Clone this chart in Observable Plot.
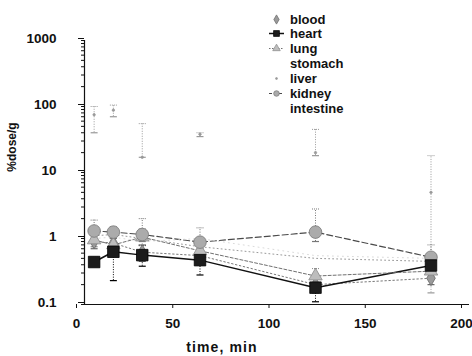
<!DOCTYPE html>
<html><head><meta charset="utf-8">
<script src="https://cdn.jsdelivr.net/npm/d3@7"></script>
<script src="https://cdn.jsdelivr.net/npm/@observablehq/plot@0.6"></script>
<style>
body{margin:0;background:#fff;}
#wrap{position:relative;width:472px;height:356px;font-family:"Liberation Sans",Arial,sans-serif;font-weight:bold;color:#111;}
.leg{position:absolute;left:268px;height:15px;display:flex;align-items:center;font-size:13px;}
.leg svg{width:22px;height:15px;margin-right:0px;}
#ylab{position:absolute;left:12px;top:147px;transform:translate(-50%,-50%) rotate(-90deg);font-size:12px;white-space:nowrap;}
#xlab{position:absolute;left:222px;top:347px;transform:translate(-50%,-50%);font-size:14px;letter-spacing:1.1px;white-space:nowrap;}
</style></head><body><div id="wrap"></div>
<script>
// ---- data ----
const times = [5, 15, 30, 60, 120, 180];
const seriesNames = ["blood", "heart", "lung", "stomach", "liver", "kidney", "intestine"];
const blood     = [0.9, 0.85, 0.62, 0.55, 0.2, 0.25];
const heart     = [0.44, 0.63, 0.56, 0.47, 0.18, 0.39];
const lung      = [0.95, 0.8, 1.05, 0.65, 0.27, 0.32];
const stomach   = [1.1, 1.15, 1.0, 0.75, 0.5, 0.45];
const liver     = [75, 88, 17, 38, 20, 5];
const kidney    = [1.3, 1.25, 1.15, 0.88, 1.25, 0.52];
const intestine = [1.0, 1.05, 0.9, 1.0, 0.55, 0.5];
// error bar ends (lower / upper)
const bloodLo = [0.7, 0.7, 0.45, 0.4, 0.15, 0.2];
const bloodHi = [1.2, 1.0, 0.8, 0.7, 0.28, 0.3];
const heartLo = [0.38, 0.23, 0.38, 0.28, 0.11, 0.3];
const heartHi = [0.52, 0.8, 0.78, 0.62, 0.25, 0.5];
const lungLo  = [0.75, 0.65, 0.8, 0.5, 0.2, 0.25];
const lungHi  = [1.2, 1.0, 1.4, 0.85, 0.35, 0.4];
const liverLo = [40, 70, 17, 35, 18, 0.15];
const liverHi = [100, 105, 55, 40, 45, 18];
const kidneyLo = [1.0, 1.0, 0.9, 0.6, 0.9, 0.3];
const kidneyHi = [1.9, 1.5, 2.0, 1.45, 2.8, 0.8];

const values = {blood, heart, lung, stomach, liver, kidney, intestine};
const errs = {
  blood: [bloodLo, bloodHi], heart: [heartLo, heartHi], lung: [lungLo, lungHi],
  liver: [liverLo, liverHi], kidney: [kidneyLo, kidneyHi]
};

// ---- styles ----
const style = {
  blood:     {stroke: "#777", dash: "1.5,2.5", sw: 1, symbol: "diamond", fill: "#9a9a9a", ms: "#666", r: 4.5},
  heart:     {stroke: "#111", dash: null, sw: 1.5, symbol: "square", fill: "#1c1c1c", ms: "#000", r: 6.5},
  lung:      {stroke: "#707070", dash: "3,2", sw: 1, symbol: "triangle", fill: "#bdbdbd", ms: "#888", r: 5},
  stomach:   {stroke: "#999", dash: "1,3", sw: 1, symbol: null},
  liver:     {stroke: "none", dash: null, sw: 0, symbol: "circle", fill: "#999", ms: "#999", r: 1.2},
  kidney:    {stroke: "#4a4a4a", dash: "6,3", sw: 1.2, symbol: "circle", fill: "#ababab", ms: "#777", r: 6.3},
  intestine: {stroke: "#d0d0d0", dash: "1,4", sw: 0.8, symbol: null}
};

const rows = [];
for (const s of seriesNames) {
  times.forEach((t, i) => {
    const e = errs[s];
    rows.push({series: s, t, v: values[s][i], lo: e ? e[0][i] : null, hi: e ? e[1][i] : null});
  });
}

const cap = {draw(ctx, size) { const w = Math.sqrt(size / Math.PI); ctx.moveTo(-w, 0); ctx.lineTo(w, 0); }};
const minorTicks = d3.scaleLog().domain([0.1, 1000]).ticks();

const marks = [];
for (const s of seriesNames) {
  const st = style[s];
  if (st.stroke === "none") continue;
  marks.push(Plot.line(rows.filter(d => d.series === s), {x: "t", y: "v", stroke: st.stroke, strokeWidth: st.sw, strokeDasharray: st.dash || undefined}));
}
for (const s of seriesNames) {
  if (!errs[s]) continue;
  const st = style[s];
  const data = rows.filter(d => d.series === s);
  marks.push(Plot.ruleX(data, {x: "t", y1: "lo", y2: "hi", stroke: st.ms, strokeWidth: 1, strokeDasharray: "1,1.5"}));
  marks.push(Plot.dot(data, {x: "t", y: "lo", symbol: cap, r: 3.5, stroke: st.ms, fill: "none", strokeWidth: 1.2}));
  marks.push(Plot.dot(data, {x: "t", y: "hi", symbol: cap, r: 3.5, stroke: st.ms, fill: "none", strokeWidth: 1, strokeDasharray: "1,1"}));
}
for (const s of ["liver", "blood", "lung", "kidney", "heart"]) {
  const st = style[s];
  marks.push(Plot.dot(rows.filter(d => d.series === s), {x: "t", y: "v", symbol: st.symbol, r: st.r, fill: st.fill, stroke: st.ms, strokeWidth: 0.8}));
}

const chart = Plot.plot({
  width: 472, height: 356,
  marginLeft: 84, marginRight: 3, marginTop: 40, marginBottom: 52,
  style: {fontFamily: "'Liberation Sans', Arial, sans-serif", fontSize: "13.5px", fontWeight: "bold", color: "#111", background: "transparent"},
  x: {domain: [0, 200]},
  y: {type: "log", domain: [0.1, 1000]},
  marks: [
    Plot.axisY({ticks: minorTicks, tickSize: 3, tickFormat: () => "", label: null}),
    Plot.axisY({ticks: [0.1, 1, 10, 100, 1000], tickSize: 6, tickPadding: 22, dy: -2, tickFormat: d => String(d), label: null}),
    Plot.axisX({ticks: [0, 50, 100, 150, 200], tickSize: 4, tickPadding: 10, dx: -8, label: null}),
    ...marks,
    Plot.ruleX([0], {stroke: "#111", strokeWidth: 1.2}),
    Plot.ruleY([0.1], {stroke: "#111", strokeWidth: 1.2})
  ]
});
const wrap = document.getElementById("wrap");
wrap.appendChild(chart);

// legend
const legTop0 = 19, legStep = 14.9;
const typeMap = {circle: d3.symbolCircle, square: d3.symbolSquare, triangle: d3.symbolTriangle, diamond: d3.symbolDiamond};
seriesNames.forEach((s, i) => {
  const st = style[s];
  const div = document.createElement("div");
  div.className = "leg";
  div.style.top = (legTop0 + i * legStep - 7.5) + "px";
  let svg = `<svg viewBox="0 0 22 15">`;
  if (s === "heart" || s === "kidney" || s === "lung") {
    svg += `<line x1="1" x2="16" y1="7.5" y2="7.5" stroke="${st.stroke}" stroke-width="${s === "heart" ? 1.5 : 1}" ${st.dash ? `stroke-dasharray="${s === "kidney" ? "3,2" : "1.5,1.5"}"` : ""}/>`;
  }
  if (st.symbol) {
    const rr = s === "liver" ? 1 : s === "heart" ? 3.3 : 2.8;
    const path = d3.symbol(typeMap[st.symbol], rr * rr * Math.PI)();
    svg += `<path d="${path}" transform="translate(8.5,7.5)" fill="${st.fill}" stroke="${st.ms}" stroke-width="0.7"/>`;
  }
  svg += `</svg>`;
  div.innerHTML = svg + `<span>${s}</span>`;
  wrap.appendChild(div);
});

const yl = document.createElement("div"); yl.id = "ylab"; yl.textContent = "%dose/g"; wrap.appendChild(yl);
const xl = document.createElement("div"); xl.id = "xlab"; xl.textContent = "time, min"; wrap.appendChild(xl);
</script>
</body></html>
